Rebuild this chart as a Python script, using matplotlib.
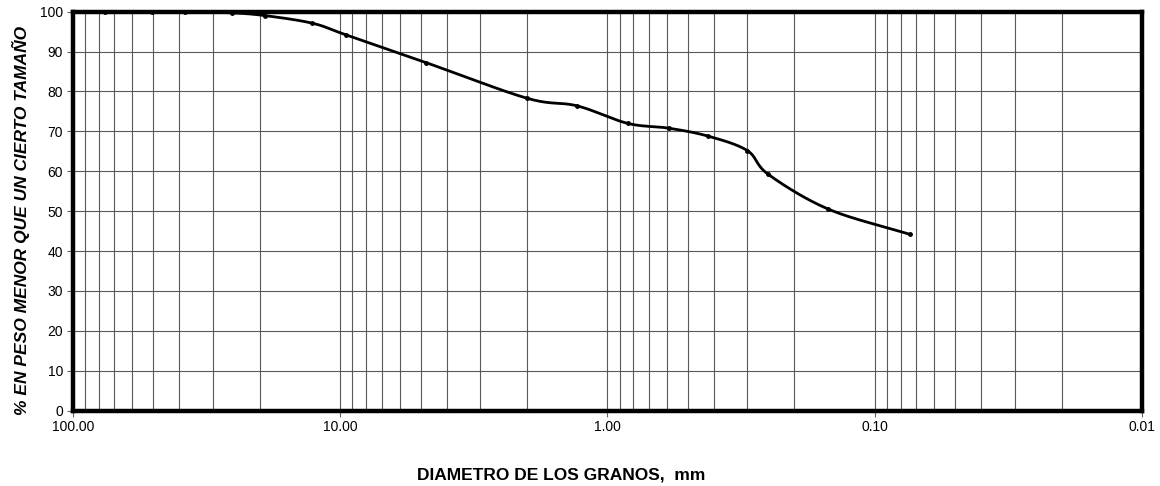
import numpy as np
import matplotlib
matplotlib.use("Agg")
import matplotlib.pyplot as plt
from matplotlib.ticker import FixedLocator, LogLocator, FuncFormatter, NullFormatter

# ---- data ----
diametros = [76.2, 50.8, 38.1, 25.4, 19.05, 12.7, 9.525, 4.76, 2.0, 1.30,
             0.84, 0.59, 0.42, 0.30, 0.25, 0.149, 0.074]
pasa = [100.0, 100.0, 100.0, 99.7, 99.0, 97.1, 94.2, 87.2, 78.3, 76.4,
        72.0, 70.8, 68.8, 65.2, 59.2, 50.5, 44.2]
x_ticks = [100, 10, 1, 0.1, 0.01]
y_ticks = [0, 10, 20, 30, 40, 50, 60, 70, 80, 90, 100]
x_label = "DIAMETRO DE LOS GRANOS,  mm"
y_label = "% EN PESO MENOR QUE UN CIERTO TAMAÑO"

plt.rcParams['font.family'] = ['Liberation Sans', 'DejaVu Sans']


def catmull_rom(px, py, n=30):
    px = np.asarray(px, float)
    py = np.asarray(py, float)
    P = np.column_stack([px, py])
    P = np.vstack([2 * P[0] - P[1], P, 2 * P[-1] - P[-2]])
    out = []
    t = np.linspace(0, 1, n, endpoint=False)
    for i in range(1, len(P) - 2):
        p0, p1, p2, p3 = P[i - 1], P[i], P[i + 1], P[i + 2]
        tt = t[:, None]
        seg = 0.5 * ((2 * p1) + (-p0 + p2) * tt + (2 * p0 - 5 * p1 + 4 * p2 - p3) * tt ** 2
                     + (-p0 + 3 * p1 - 3 * p2 + p3) * tt ** 3)
        out.append(seg)
    out.append(P[-2][None, :])
    out = np.vstack(out)
    return out[:, 0], out[:, 1]


fig = plt.figure(figsize=(11.6, 4.86), dpi=100)
ax = fig.add_axes([0.0629, 0.155, 0.9845 - 0.0629, 0.976 - 0.155])

lx, ly = catmull_rom(np.log10(diametros), pasa)
ax.plot(10 ** lx, ly, color='black', lw=2.0, zorder=3)
ax.plot(diametros, pasa, 'o', color='black', ms=2.5, zorder=4)

ax.set_xscale('log')
ax.set_xlim(100, 0.01)
ax.set_ylim(0, 100)

ax.xaxis.set_major_locator(FixedLocator(x_ticks))
ax.xaxis.set_major_formatter(FuncFormatter(lambda v, p: f"{v:.2f}"))
ax.xaxis.set_minor_locator(LogLocator(base=10, subs=np.arange(2, 10), numticks=50))
ax.xaxis.set_minor_formatter(NullFormatter())
ax.set_yticks(y_ticks)

ax.grid(True, which='both', axis='x', color='0.35', lw=0.8)
ax.grid(True, which='major', axis='y', color='0.35', lw=0.8)
ax.set_axisbelow(True)

ax.tick_params(axis='both', which='major', length=4, width=0.8, labelsize=10, pad=3,
               direction='out', color='0.4')
ax.tick_params(axis='x', which='minor', length=0)

for s in ax.spines.values():
    s.set_linewidth(3.2)
    s.set_color('black')

fig.text(561 / 1160, 1 - 475 / 486, x_label, ha='center', va='center',
         fontsize=12.5, fontweight='bold')
fig.text(21 / 1160, 1 - 220 / 486, y_label, ha='center', va='center', rotation=90,
         fontsize=12.5, fontweight='bold', fontstyle='italic')

fig.savefig('out.png', dpi=100)
